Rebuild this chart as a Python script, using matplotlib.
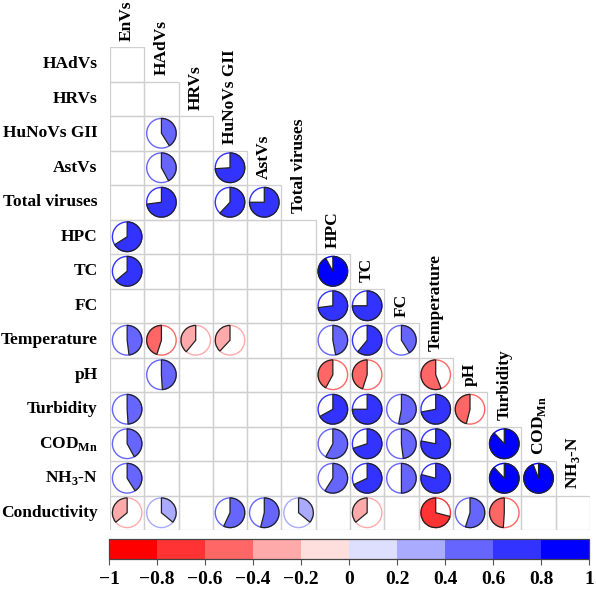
import matplotlib
matplotlib.use("Agg")
import matplotlib.pyplot as plt
from matplotlib.patches import Wedge, Circle, Rectangle
from matplotlib.colors import ListedColormap, BoundaryNorm
from matplotlib.cm import ScalarMappable
import numpy as np

plt.rcParams['font.family'] = 'Liberation Serif'
plt.rcParams['font.weight'] = 'bold'
plt.rcParams['mathtext.fontset'] = 'custom'
plt.rcParams['mathtext.rm'] = 'Liberation Serif:bold'
plt.rcParams['mathtext.bf'] = 'Liberation Serif:bold'

# variable names (rows = names[1:], columns = names[:-1])
names = ['EnVs', 'HAdVs', 'HRVs', 'HuNoVs GII', 'AstVs', 'Total viruses', 'HPC', 'TC', 'FC',
         'Temperature', 'pH', 'Turbidity', r'COD$_{\rm Mn}$', r'NH$_{\rm 3}$-N', 'Conductivity']

# lower-triangle correlations, None = not significant (blank cell)
N = None
r_hadvs = [N]
r_hrvs = [N, N]
r_hunov = [N, 0.41, N]
r_astvs = [N, 0.42, N, 0.74]
r_total = [N, 0.73, N, 0.62, 0.75]
r_hpc = [0.66, N, N, N, N, N]
r_tc = [0.64, N, N, N, N, N, 0.92]
r_fc = [N, N, N, N, N, N, 0.73, 0.75]
r_temp = [0.48, -0.45, -0.39, -0.38, N, N, 0.47, 0.61, 0.41]
r_ph = [N, 0.49, N, N, N, N, -0.42, -0.45, N, -0.56]
r_turb = [0.49, N, N, N, N, N, 0.67, 0.75, 0.53, 0.72, -0.46]
r_cod = [0.42, N, N, N, N, N, 0.58, 0.70, 0.48, 0.78, N, 0.88]
r_nh3 = [0.41, N, N, N, N, N, 0.59, 0.68, 0.50, 0.79, N, 0.88, 0.94]
r_cond = [-0.36, 0.36, N, 0.57, 0.54, 0.36, N, -0.36, N, -0.71, 0.55, -0.49, N, N]
rows = [r_hadvs, r_hrvs, r_hunov, r_astvs, r_total, r_hpc, r_tc, r_fc,
        r_temp, r_ph, r_turb, r_cod, r_nh3, r_cond]

# colour bins from -1 to 1
bounds = np.linspace(-1, 1, 11)
bin_colors = ['#FF0000', '#FF3333', '#FF6666', '#FFAAAA', '#FFDEDE',
              '#DEDEFF', '#AAAAFF', '#6666FF', '#3333FF', '#0000FF']
tick_vals = [-1, -0.8, -0.6, -0.4, -0.2, 0, 0.2, 0.4, 0.6, 0.8, 1]
tick_labels = ['\u22121', '\u22120.8', '\u22120.6', '\u22120.4', '\u22120.2', '0',
               '0.2', '0.4', '0.6', '0.8', '1']

cmap = ListedColormap(bin_colors)
norm = BoundaryNorm(bounds, cmap.N)

n = len(rows)
fig = plt.figure(figsize=(5.96, 5.91), dpi=100)
ax = fig.add_axes([110/596, 1 - 530/591, 480/596, 483/591])
ax.set_xlim(0, n)
ax.set_ylim(n, 0)
ax.axis('off')

grid_col = '#CFCFCF'
R = 0.43
for i, row in enumerate(rows):
    for j, v in enumerate(row):
        ax.add_patch(Rectangle((j, i), 1, 1, facecolor='none', edgecolor=grid_col, lw=0.9))
        if v is None:
            continue
        c = cmap(norm(v))
        cx, cy = j + 0.5, i + 0.5
        ax.add_patch(Circle((cx, cy), R, facecolor='white', edgecolor=c, lw=1.0))
        # y axis inverted: screen clockwise = data counter-clockwise
        if v >= 0:
            t1, t2 = -90, -90 + 360 * v
        else:
            t1, t2 = -90 + 360 * v, -90
        ax.add_patch(Wedge((cx, cy), R, t1, t2, facecolor=c, edgecolor='#222222', lw=0.9))

# row labels
for i in range(n):
    ax.text(-0.36, i + 0.5, names[i + 1], ha='right', va='center', fontsize=12.5,
            fontweight='bold', clip_on=False)

# column labels, staircase on top of each column
for j in range(n):
    ax.text(j + 0.5, j - 0.18, names[j], rotation=90, ha='center', va='bottom',
            fontsize=12.5, fontweight='bold', clip_on=False)

# colour bar
cax = fig.add_axes([109/596, 1 - 559/591, 480/596, 20/591])
cb = fig.colorbar(ScalarMappable(norm=norm, cmap=cmap), cax=cax, orientation='horizontal',
                  ticks=tick_vals)
cb.ax.set_xticklabels(tick_labels, fontsize=14, fontweight='bold')
cb.ax.tick_params(length=4, width=0.8, color='#555555', pad=5)
cb.outline.set_edgecolor('#444444')
cb.outline.set_linewidth(0.9)

fig.savefig('out.png', dpi=100)
